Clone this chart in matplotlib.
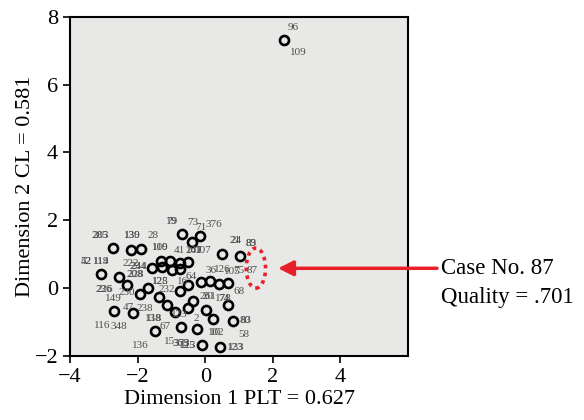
import numpy as np
import matplotlib
matplotlib.use("Agg")
import matplotlib.pyplot as plt
from matplotlib.patches import Ellipse

plt.rcParams['font.family'] = ['Liberation Serif', 'DejaVu Serif']

# object points (dimension 1, dimension 2)
dim1 = [-3.09, -2.72, -2.55, -2.32, -2.19, -1.91, -1.93, -2.14, -2.69, -1.69,
        -1.56, -1.30, -1.28, -1.03, -0.99, -0.76, -0.74, -0.51, -0.68, -0.38,
        -0.14, -1.38, -1.13, -0.88, -0.74, -0.50, -0.52, -0.37, -0.72, -1.50,
        -0.23, -0.10, -0.12, 0.14, 0.02, 0.24, 0.41, 0.68, 0.68, 0.49,
        1.02, 0.81, 0.45, 2.33]
dim2 = [0.41, 1.18, 0.33, 0.09, 1.12, 1.15, -0.18, -0.74, -0.68, -0.01,
        0.58, 0.80, 0.61, 0.80, 0.54, 0.73, 0.56, 0.76, 1.59, 1.35,
        1.53, -0.26, -0.51, -0.70, -0.08, 0.09, -0.58, -0.38, -1.16, -1.26,
        -1.21, -1.67, 0.19, 0.21, -0.65, -0.91, 0.12, 0.16, -0.51, 1.01,
        0.95, -0.97, -1.74, 7.31]

# case number labels and where they sit
lab_text = ['285', '203', '130', '139', '28', '79', '19', '73', '71', '376',
            '110', '109', '41', '207', '141', '107', '52', '42', '119', '114',
            '222', '234', '244', '208', '228', '236', '226', '149', '230', '128',
            '125', '232', '16', '64', '36', '126', '105', '75', '87', '89',
            '83', '21', '24', '68', '261', '20', '178', '74', '47', '238',
            '138', '118', '67', '123', '2', '116', '348', '136', '15', '369',
            '373', '125', '113', '10', '102', '80', '83', '58', '123', '133',
            '96', '109']
lab_x = [-3.12, -3.10, -2.17, -2.15, -1.54, -1.00, -0.99, -0.37, -0.13, 0.26,
         -1.34, -1.32, -0.76, -0.33, -0.31, -0.06, -3.53, -3.51, -3.09, -3.07,
         -2.20, -1.98, -1.96, -2.07, -2.05, -3.00, -2.98, -2.71, -2.32, -1.34,
         -1.32, -1.15, -0.66, -0.42, 0.17, 0.50, 0.80, 0.99, 1.38, 1.36,
         1.37, 0.90, 0.91, 0.99, 0.07, 0.09, 0.53, 0.55, -2.27, -1.78,
         -1.54, -1.52, -1.20, -0.76, -0.27, -3.05, -2.56, -1.93, -1.05, -0.71,
         -0.69, -0.52, -0.50, 0.31, 0.33, 1.19, 1.20, 1.14, 0.90, 0.92,
         2.60, 2.74]
lab_y = [1.56, 1.56, 1.56, 1.56, 1.56, 1.95, 1.95, 1.92, 1.80, 1.88,
         1.21, 1.21, 1.12, 1.12, 1.12, 1.12, 0.79, 0.79, 0.79, 0.79,
         0.73, 0.63, 0.63, 0.41, 0.41, -0.04, -0.04, -0.31, -0.14, 0.21,
         0.21, -0.03, 0.19, 0.33, 0.51, 0.55, 0.50, 0.51, 0.53, 1.31,
         1.31, 1.39, 1.39, -0.11, -0.26, -0.26, -0.30, -0.30, -0.57, -0.60,
         -0.89, -0.89, -1.12, -0.79, -0.89, -1.09, -1.14, -1.68, -1.58, -1.63,
         -1.63, -1.70, -1.70, -1.30, -1.30, -0.94, -0.94, -1.38, -1.76, -1.76,
         7.68, 6.94]

fig = plt.figure(figsize=(5.84, 4.2), dpi=100)
ax = fig.add_axes([0.1199, 0.1524, 0.5787, 0.8078])
ax.set_facecolor('#e8e8e6')

for x, y, t in zip(lab_x, lab_y, lab_text):
    ax.text(x, y, t, fontsize=8, color='#4d4d4d', ha='center', va='center')

ax.plot(dim1, dim2, 'o', ms=6.5, mfc='none', mec='black', mew=1.9)

ax.add_patch(Ellipse((1.50, 0.59), 0.57, 1.18, fill=False, ec='#e8202a',
                     lw=2.6, ls=(0, (1, 1.2))))

ax.set_xlim(-4, 6)
ax.set_ylim(-2, 8)
ax.set_xticks([-4, -2, 0, 2, 4])
ax.set_yticks([-2, 0, 2, 4, 6, 8])
ax.tick_params(labelsize=16, length=5, width=1.2, direction='out')
for s in ax.spines.values():
    s.set_linewidth(1.5)

ax.set_xlabel('Dimension 1 PLT = 0.627', fontsize=16, labelpad=2)
ax.set_ylabel('Dimension 2 CL = 0.581', fontsize=16, labelpad=0)

# arrow and note to the right
ax.annotate('', xy=(278 / 584, 1 - 268.3 / 420), xycoords='figure fraction',
            xytext=(437 / 584, 1 - 268.3 / 420), textcoords='figure fraction',
            arrowprops=dict(arrowstyle='-|>,head_length=0.9,head_width=0.45',
                            color='#e8202a', lw=2.5, shrinkA=0, shrinkB=0))
fig.text(441 / 584, 1 - 268 / 420, 'Case No. 87', fontsize=16.5, va='center')
fig.text(441 / 584, 1 - 298 / 420, 'Quality = .701', fontsize=16.5, va='center')

fig.savefig('out.png', dpi=100)
